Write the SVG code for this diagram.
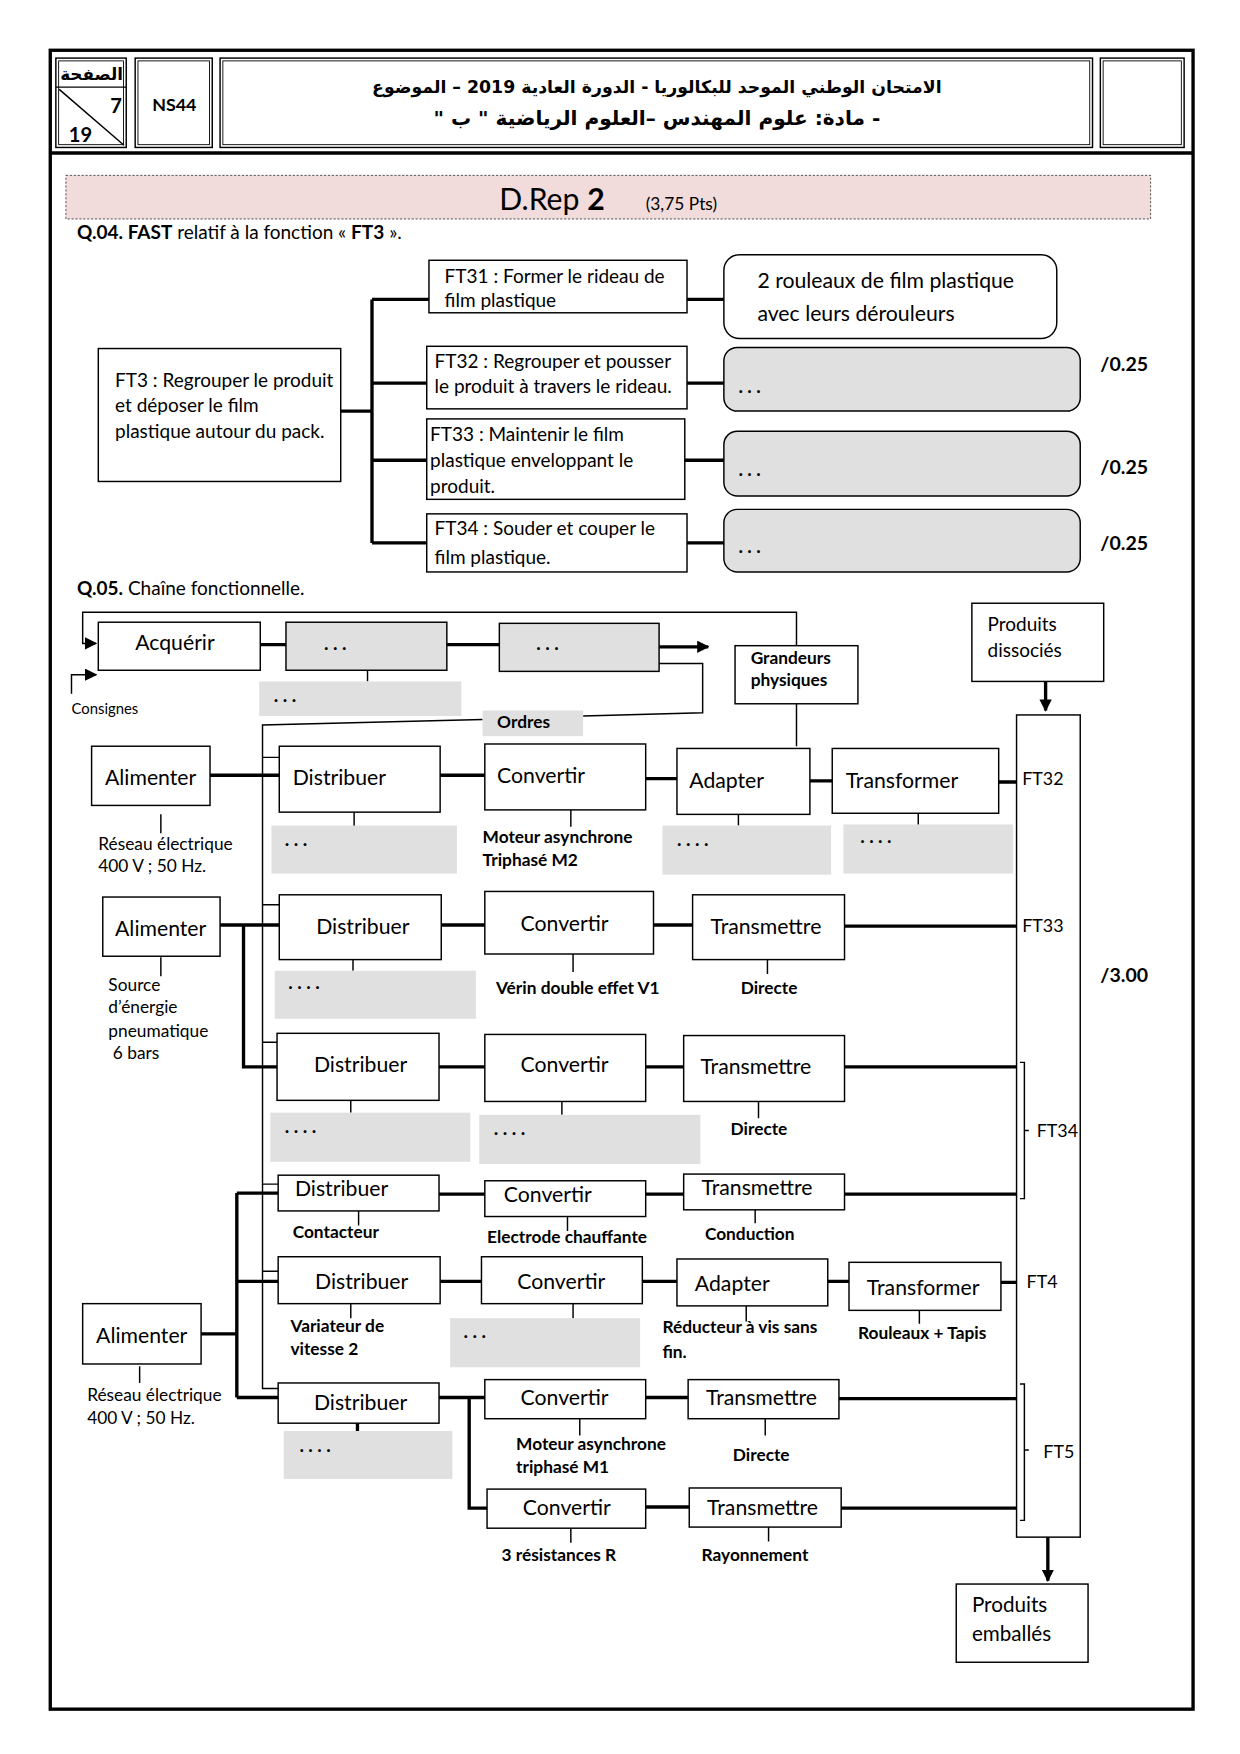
<svg xmlns="http://www.w3.org/2000/svg" width="1240" height="1754" viewBox="0 0 1240 1754">
<defs>
<style>
.b{fill:#fff;stroke:#000;stroke-width:1.3}
.gb{fill:#e0e0e0;stroke:#000;stroke-width:1.3}
.g{fill:#e0e0e0}
.t{stroke:#000;stroke-width:3;fill:none}
.n{stroke:#000;stroke-width:1.3;fill:none}
text{font-family:Lato,"Open Sans","Liberation Sans",sans-serif;fill:#000}
.L{font-size:19px}
.F{font-size:17px}
.S{font-size:15.5px}
.B{font-size:15.5px;font-weight:bold}
.D{font-size:17px;font-weight:bold;letter-spacing:4px}
.ar{font-family:"DejaVu Sans",sans-serif;font-weight:bold}
</style>
<marker id="ah" viewBox="0 0 10 10" refX="9" refY="5" markerWidth="11" markerHeight="11" markerUnits="userSpaceOnUse" orient="auto"><path d="M0,0 L10,5 L0,10 z" fill="#000"/></marker>
</defs>
<rect width="1240" height="1754" fill="#fff"/>
<g transform="scale(1.1171)">
<!-- page frame -->
<rect x="45" y="45" width="1023" height="1485" fill="none" stroke="#000" stroke-width="3"/>
<line x1="45" y1="137" x2="1068" y2="137" stroke="#000" stroke-width="3"/>

<g id="hdr-page">
<rect x="50" y="52" width="63" height="80" class="b"/>
<rect x="52.5" y="54.5" width="58" height="75" fill="none" stroke="#000" stroke-width="0.8"/>
<line x1="50" y1="78" x2="113" y2="78" class="n"/>
<line x1="53" y1="80" x2="111" y2="130" class="n"/>
<text x="82" y="72" class="ar" font-size="15" text-anchor="middle" direction="rtl">الصفحة</text>
<text x="104" y="101" font-family="Liberation Sans,sans-serif" font-weight="bold" font-size="18" text-anchor="middle">7</text>
<text x="72" y="127" font-family="Liberation Sans,sans-serif" font-weight="bold" font-size="18" text-anchor="middle">19</text>
</g>
<g id="hdr-code">
<rect x="121" y="52" width="69" height="80" class="b"/>
<rect x="123.5" y="54.5" width="64" height="75" fill="none" stroke="#000" stroke-width="0.8"/>
<text x="156" y="99" font-family="Liberation Sans,sans-serif" font-weight="bold" font-size="16" text-anchor="middle">NS44</text>
</g>
<g id="hdr-title">
<rect x="197" y="52" width="781" height="80" class="b"/>
<rect x="199.5" y="54.5" width="776" height="75" fill="none" stroke="#000" stroke-width="0.8"/>
<text x="588" y="83" class="ar" font-size="15.5" text-anchor="middle" direction="rtl">الامتحان الوطني الموحد للبكالوريا - الدورة العادية 2019 – الموضوع</text>
<text x="588" y="112" class="ar" font-size="18" text-anchor="middle" direction="rtl">- مادة: علوم المهندس –العلوم الرياضية " ب "</text>
</g>
<g id="hdr-blank">
<rect x="985" y="52" width="75" height="80" class="b"/>
<rect x="987.5" y="54.5" width="70" height="75" fill="none" stroke="#000" stroke-width="0.8"/>
</g>

<g id="banner">
<rect x="59" y="157" width="971" height="39" fill="#f2dcdb" stroke="#444" stroke-width="0.8" stroke-dasharray="2,1.5"/>
<text x="447" y="188" font-size="27">D.Rep <tspan font-weight="bold">2</tspan></text>
<text x="578" y="188" font-size="15.5">(3,75 Pts)</text>
</g>
<text x="69" y="214" font-size="17"><tspan font-weight="bold">Q.04. FAST</tspan> relatif à la fonction « <tspan font-weight="bold">FT3</tspan> ».</text>

<!-- FAST connectors -->
<g id="fast-connectors">
<path class="t" d="M305,368 H333 M333,268 V486 M333,268 H384 M333,343 H382 M333,412 H382 M333,486 H382"/>
<path class="t" d="M615,268 H648 M615,343 H648 M613,412 H648 M615,486 H648"/>
</g>
<g id="ft3">
<rect x="88" y="312" width="217" height="119" class="b"/>
<text x="103" y="346" class="F">FT3 : Regrouper le produit</text>
<text x="103" y="369" class="F">et déposer le film</text>
<text x="103" y="392" class="F">plastique autour du pack.</text>
</g>
<g id="ft31">
<rect x="384" y="233" width="231" height="47" class="b"/>
<text x="398" y="253" class="F">FT31 : Former le rideau de</text>
<text x="398" y="275" class="F">film plastique</text>
</g>
<g id="ft32">
<rect x="382" y="310" width="233" height="56" class="b"/>
<text x="389" y="329" class="F">FT32 : Regrouper et pousser</text>
<text x="389" y="352" class="F">le produit à travers le rideau.</text>
</g>
<g id="ft33">
<rect x="382" y="375" width="231" height="72" class="b"/>
<text x="385" y="395" class="F">FT33 : Maintenir le film</text>
<text x="385" y="418" class="F">plastique enveloppant le</text>
<text x="385" y="441" class="F">produit.</text>
</g>
<g id="ft34">
<rect x="382" y="460" width="233" height="52" class="b"/>
<text x="389" y="479" class="F">FT34 : Souder et couper le</text>
<text x="389" y="505" class="F">film plastique.</text>
</g>
<g id="sol1">
<rect x="648" y="228" width="298" height="75" rx="14" class="b"/>
<text x="678" y="258" font-size="19">2 rouleaux de film plastique</text>
<text x="678" y="287" font-size="19">avec leurs dérouleurs</text>
</g>
<g id="sol2">
<rect x="648" y="311" width="319" height="57" rx="12" class="gb"/>
<text x="661" y="352" class="D">...</text>
</g>
<g id="sol3">
<rect x="648" y="386" width="319" height="58" rx="12" class="gb"/>
<text x="661" y="426" class="D">...</text>
</g>
<g id="sol4">
<rect x="648" y="456" width="319" height="56" rx="12" class="gb"/>
<text x="661" y="495" class="D">...</text>
</g>
<g id="scores" font-weight="bold" font-size="17.5">
<text x="985" y="332">/0.25</text>
<text x="985" y="424">/0.25</text>
<text x="985" y="492">/0.25</text>
<text x="985" y="879">/3.00</text>
</g>

<text x="69" y="533" font-size="17"><tspan font-weight="bold">Q.05.</tspan> Chaîne fonctionnelle.</text>

<g id="machine"><rect x="910" y="640" width="57" height="736" class="b"/></g>

<!-- Functional chain connectors -->
<g id="chain-connectors">
<path class="n" d="M713,578 V548 H74 V576 H86" marker-end="url(#ah)"/>
<path class="n" d="M64,621 V604 H86" marker-end="url(#ah)" stroke-width="1.6"/>
<path class="t" d="M233,577 H256 M400,577 H447"/>
<path class="t" d="M590,579 H634" marker-end="url(#ah)"/>
<path class="n" d="M590,594 H629 V638 L522,641 M432,644 L235,649 V1243 H249"/>
<path class="n" d="M235,678 H250 M235,810 H250 M235,933 H248 M235,1060 H249 M235,1138 H249"/>
<path class="n" d="M329,600 V610"/>
<path class="t" d="M936,610 V636" marker-end="url(#ah)"/>
<path class="t" d="M938,1376 V1415" marker-end="url(#ah)"/>
<!-- row 1 -->
<path class="t" d="M188,694 H250 M394,694 H434 M578,697 H606 M725,699 H745 M894,700 H910"/>
<!-- row 2/3 -->
<path class="t" d="M197,828 H250 M218,828 V955 H248 M395,828 H434 M585,828 H620 M756,829 H910"/>
<path class="t" d="M393,955 H434 M578,955 H612 M756,955 H910"/>
<!-- rows 4-6 -->
<path class="t" d="M180,1194 H212 M212,1068 V1251 M212,1068 H249 M212,1147 H249 M212,1251 H249"/>
<path class="t" d="M393,1069 H434 M578,1069 H612 M756,1069 H910"/>
<path class="t" d="M394,1147 H431 M575,1147 H606 M741,1147 H760 M896,1148 H910"/>
<path class="t" d="M393,1251 H434 M420,1251 V1350 H436 M578,1251 H616 M751,1252 H910 M578,1349 H617 M753,1350 H910"/>
<!-- label ticks -->
<path class="n" d="M713,630 V668 M144,729 V746 M317,727 V740 M511,725 V740 M661,729 V739 M822,728 V742
M144,857 V874 M316,859 V869 M513,854 V870 M687,859 V872
M314,985 V996 M503,986 V998 M679,986 V1001
M321,1084 V1097 M508,1089 V1102 M676,1083 V1095
M125,1223 V1238 M314,1167 V1180 M513,1167 V1180 M668,1169 V1183 M823,1173 V1185
M519,1270 V1285 M685,1270 V1285 M511,1368 V1381 M688,1367 V1380"/>
<path class="t" d="M320,1274 V1281" stroke-width="2"/>
<!-- brackets -->
<path class="n" d="M913,951 H917 V1073 H913 M917,1012 H921"/>
<path class="n" d="M913,1239 H917 V1361 H913 M917,1298 H921"/>
</g>

<g id="acquerir"><rect x="88" y="557" width="145" height="43" class="b"/><text x="121" y="582" class="L">Acquérir</text></g>
<g id="traiter"><rect x="256" y="557" width="144" height="43" class="gb"/><text x="290" y="582" class="D">...</text></g>
<g id="communiquer"><rect x="447" y="558" width="143" height="43" class="gb"/><text x="480" y="582" class="D">...</text></g>
<g id="traiter-support"><rect x="232" y="610" width="181" height="31" class="g"/><text x="245" y="628" class="D">...</text></g>
<text x="64" y="639" font-size="13.3">Consignes</text>
<g id="ordres"><rect x="432" y="636" width="90" height="23" class="g"/><text x="445" y="652" font-size="15.5" font-weight="bold">Ordres</text></g>
<g id="grandeurs"><rect x="658" y="578" width="110" height="52" class="b"/><text x="672" y="594" class="B">Grandeurs</text><text x="672" y="614" class="B">physiques</text></g>
<g id="prod-dissocies"><rect x="870" y="540" width="118" height="70" class="b"/><text x="884" y="565" font-size="17">Produits</text><text x="884" y="588" font-size="17">dissociés</text></g>
<g id="ft-labels" font-size="16">
<text x="915" y="703">FT32</text>
<text x="915" y="834">FT33</text>
<text x="928" y="1018">FT34</text>
<text x="919" y="1153">FT4</text>
<text x="934" y="1305">FT5</text>
</g>
<g id="prod-emballes"><rect x="856" y="1418" width="118" height="70" class="b"/><text x="870" y="1443" font-size="18.5">Produits</text><text x="870" y="1469" font-size="18.5">emballés</text></g>

<!-- row 1 -->
<g id="alim1"><rect x="82" y="668" width="106" height="53" class="b"/><text x="94" y="703" class="L">Alimenter</text>
<text x="88" y="761" class="S">Réseau électrique</text><text x="88" y="781" class="S">400 V ; 50 Hz.</text></g>
<g id="dist1"><rect x="250" y="668" width="144" height="59" class="b"/><text x="262" y="703" class="L">Distribuer</text>
<rect x="243" y="739" width="166" height="43" class="g"/><text x="255" y="757" class="D">...</text></g>
<g id="conv1"><rect x="434" y="666" width="144" height="59" class="b"/><text x="445" y="701" class="L">Convertir</text>
<text x="432" y="755" class="B">Moteur asynchrone</text><text x="432" y="775" class="B">Triphasé M2</text></g>
<g id="adapt1"><rect x="606" y="670" width="119" height="59" class="b"/><text x="617" y="705" class="L">Adapter</text>
<rect x="593" y="739" width="151" height="44" class="g"/><text x="606" y="757" class="D">....</text></g>
<g id="transf1"><rect x="745" y="670" width="149" height="58" class="b"/><text x="757" y="705" class="L">Transformer</text>
<rect x="755" y="738" width="152" height="44" class="g"/><text x="770" y="755" class="D">....</text></g>

<!-- row 2 -->
<g id="alim2"><rect x="92" y="803" width="105" height="53" class="b"/><text x="103" y="838" class="L">Alimenter</text>
<text x="97" y="887" class="S">Source</text><text x="97" y="907" class="S">d’énergie</text><text x="97" y="928" class="S">pneumatique</text><text x="101" y="948" class="S">6 bars</text></g>
<g id="dist2"><rect x="250" y="801" width="145" height="58" class="b"/><text x="283" y="836" class="L">Distribuer</text>
<rect x="246" y="869" width="180" height="43" class="g"/><text x="258" y="885" class="D">....</text></g>
<g id="conv2"><rect x="434" y="798" width="151" height="56" class="b"/><text x="466" y="833" class="L">Convertir</text>
<text x="444" y="890" class="B">Vérin double effet V1</text></g>
<g id="trans2"><rect x="620" y="801" width="136" height="58" class="b"/><text x="636" y="836" class="L">Transmettre</text>
<text x="663" y="890" class="B">Directe</text></g>

<!-- row 3 -->
<g id="dist3"><rect x="248" y="925" width="145" height="60" class="b"/><text x="281" y="960" class="L">Distribuer</text>
<rect x="242" y="996" width="179" height="44" class="g"/><text x="255" y="1014" class="D">....</text></g>
<g id="conv3"><rect x="434" y="926" width="144" height="60" class="b"/><text x="466" y="960" class="L">Convertir</text>
<rect x="429" y="998" width="198" height="44" class="g"/><text x="442" y="1016" class="D">....</text></g>
<g id="trans3"><rect x="612" y="927" width="144" height="59" class="b"/><text x="627" y="961" class="L">Transmettre</text>
<text x="654" y="1016" class="B">Directe</text></g>

<!-- row 4 -->
<g id="dist4"><rect x="249" y="1052" width="144" height="32" class="b"/><text x="264" y="1071" class="L">Distribuer</text>
<text x="262" y="1108" class="B">Contacteur</text></g>
<g id="conv4"><rect x="434" y="1057" width="144" height="32" class="b"/><text x="451" y="1076" class="L">Convertir</text>
<text x="436" y="1113" class="B">Electrode chauffante</text></g>
<g id="trans4"><rect x="612" y="1051" width="144" height="32" class="b"/><text x="628" y="1070" class="L">Transmettre</text>
<text x="631" y="1110" class="B">Conduction</text></g>

<!-- row 5 -->
<g id="alim3"><rect x="74" y="1167" width="106" height="54" class="b"/><text x="86" y="1202" class="L">Alimenter</text>
<text x="78" y="1254" class="S">Réseau électrique</text><text x="78" y="1275" class="S">400 V ; 50 Hz.</text></g>
<g id="dist5"><rect x="249" y="1125" width="145" height="42" class="b"/><text x="282" y="1154" class="L">Distribuer</text>
<text x="260" y="1192" class="B">Variateur de</text><text x="260" y="1213" class="B">vitesse 2</text></g>
<g id="conv5"><rect x="431" y="1125" width="144" height="42" class="b"/><text x="463" y="1154" class="L">Convertir</text>
<rect x="403" y="1180" width="170" height="44" class="g"/><text x="415" y="1198" class="D">...</text></g>
<g id="adapt5"><rect x="606" y="1127" width="135" height="42" class="b"/><text x="622" y="1156" class="L">Adapter</text>
<text x="593" y="1193" class="B">Réducteur à vis sans</text><text x="593" y="1216" class="B">fin.</text></g>
<g id="transf5"><rect x="760" y="1130" width="136" height="43" class="b"/><text x="776" y="1159" class="L">Transformer</text>
<text x="768" y="1199" class="B">Rouleaux + Tapis</text></g>

<!-- row 6 -->
<g id="dist6"><rect x="249" y="1238" width="144" height="36" class="b"/><text x="281" y="1262" class="L">Distribuer</text>
<rect x="254" y="1281" width="151" height="43" class="g"/><text x="268" y="1300" class="D">....</text></g>
<g id="conv6"><rect x="434" y="1235" width="144" height="35" class="b"/><text x="466" y="1258" class="L">Convertir</text>
<text x="462" y="1298" class="B">Moteur asynchrone</text><text x="462" y="1319" class="B">triphasé M1</text></g>
<g id="trans6"><rect x="616" y="1235" width="135" height="35" class="b"/><text x="632" y="1258" class="L">Transmettre</text>
<text x="656" y="1308" class="B">Directe</text></g>
<g id="conv7"><rect x="436" y="1333" width="142" height="35" class="b"/><text x="468" y="1356" class="L">Convertir</text>
<text x="449" y="1397" class="B">3 résistances R</text></g>
<g id="trans7"><rect x="617" y="1332" width="136" height="35" class="b"/><text x="633" y="1356" class="L">Transmettre</text>
<text x="628" y="1397" class="B">Rayonnement</text></g>
</g>
</svg>
